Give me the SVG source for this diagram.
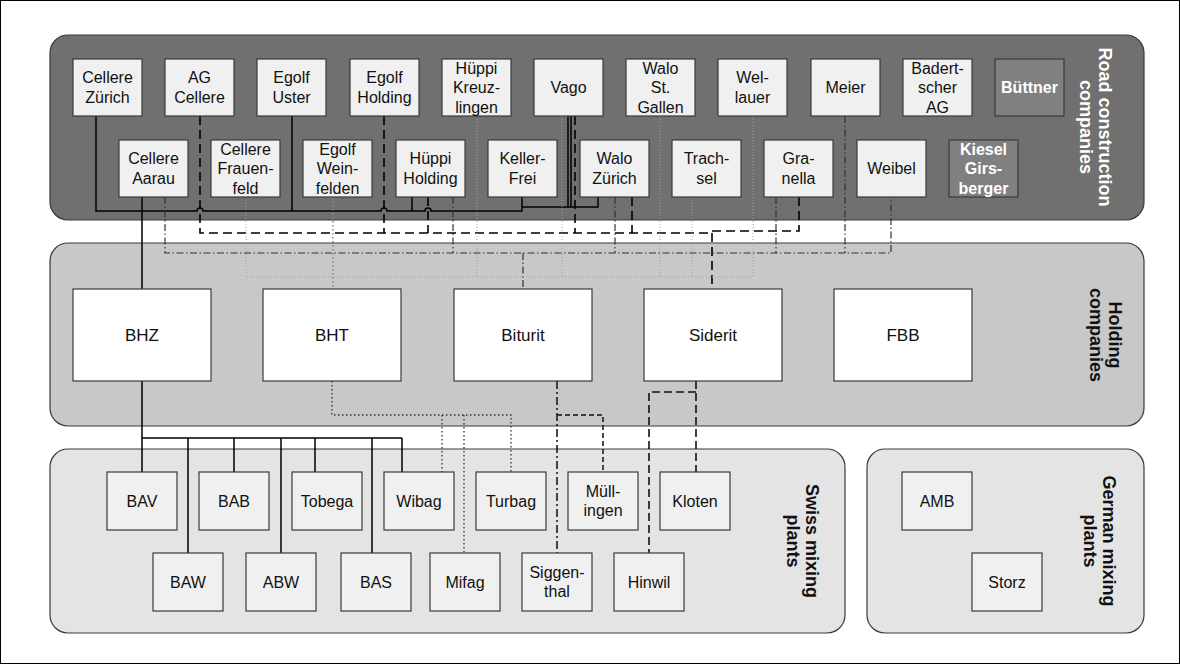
<svg xmlns="http://www.w3.org/2000/svg" width="1180" height="664" viewBox="0 0 1180 664">
<style>
text{font-family:"Liberation Sans",Arial,sans-serif;font-size:16px;fill:#111;text-anchor:middle}
.panel{stroke:#3a3a3a;stroke-width:1.2}
.n rect{fill:#f0f0f0;stroke:#3a3a3a;stroke-width:1.2}
.nd rect{fill:#808080;stroke:#3a3a3a;stroke-width:1.2}
.nd text{fill:#fff;font-weight:bold}
.h rect{fill:#fff;stroke:#3a3a3a;stroke-width:1.2}
.h text{font-size:17px}
.lbl{font-weight:bold;font-size:18px}
.lblw{fill:#fff}
.c path{fill:none}
.s{stroke:#000;stroke-width:1.5}
.d{stroke:#000;stroke-width:1.6;stroke-dasharray:9 5}
.dd{stroke:#333;stroke-width:1.2;stroke-dasharray:7 2.5 1.5 2.5}
.dt{stroke:#a0a0a0;stroke-width:1;stroke-dasharray:1 2}
.dt2{stroke:#8c8c8c;stroke-width:1.6;stroke-dasharray:1.6 2.4}
.dt3{stroke:#333;stroke-width:1.3;stroke-dasharray:1.5 2.5}
.dd2{stroke:#111;stroke-width:1.5;stroke-dasharray:8 3 2 3}
.ds{stroke:#111;stroke-width:1.5;stroke-dasharray:5 3}
.dl{stroke:#111;stroke-width:1.6;stroke-dasharray:8 4}
</style>
<rect x="0.5" y="0.5" width="1179" height="663" fill="#fff" stroke="#000" stroke-width="1"/>
<g id="panels">
<rect class="panel" x="50" y="35" width="1094" height="185" rx="18" fill="#707070"/>
<rect class="panel" x="50" y="243" width="1094" height="183" rx="18" fill="#c8c8c8"/>
<rect class="panel" x="50" y="449" width="795" height="184" rx="18" fill="#e4e4e4"/>
<rect class="panel" x="867" y="449" width="277" height="184" rx="18" fill="#e4e4e4"/>
<text class="lbl lblw" transform="translate(1096,127) rotate(90)"><tspan x="0" y="-3">Road construction</tspan><tspan x="0" y="16">companies</tspan></text>
<text class="lbl" transform="translate(1106,335) rotate(90)"><tspan x="0" y="-3">Holding</tspan><tspan x="0" y="16">companies</tspan></text>
<text class="lbl" transform="translate(803,541) rotate(90)"><tspan x="0" y="-3">Swiss mixing</tspan><tspan x="0" y="16">plants</tspan></text>
<text class="lbl" transform="translate(1100,541) rotate(90)"><tspan x="0" y="-3">German mixing</tspan><tspan x="0" y="16">plants</tspan></text>
</g>
<g id="connectors" class="c">
<path class="s" d="M96,116 V211 H197 a3,3 0 0 1 6,0 H381 a3,3 0 0 1 6,0 H425 a3,3 0 0 1 6,0 H522 V197"/>
<path class="s" d="M292,116 V211"/>
<path class="s" d="M142,197 V289"/>
<path class="s" d="M412,197 V211"/>
<path class="s" d="M522,207 H598 V197"/>
<path class="s" d="M568,116 V207"/>
<path class="s" d="M571,116 V207"/>
<path class="s" d="M142,381 V472 M142,438 H402 M188,438 V553 M234,438 V472 M281,438 V553 M315,438 V472 M372,438 V553 M402,438 V472"/>
<path class="d" d="M200,116 V233 H712"/>
<path class="d" d="M384,116 V233"/>
<path class="d" d="M428,197 V233"/>
<path class="d" d="M575,116 V233"/>
<path class="d" d="M632,197 V233"/>
<path class="d" d="M712,231 H799 V197"/>
<path class="d" d="M712,233 V289"/>
<path class="dd" d="M165,197 V253 H891 V197"/>
<path class="dd" d="M453,197 V253"/>
<path class="dd" d="M615,197 V253"/>
<path class="dd" d="M776,197 V253"/>
<path class="dd" d="M845,116 V253"/>
<path class="dd" d="M523,253 V289"/>
<path class="dt" d="M246,197 V277 H753 V116"/>
<path class="dt" d="M477,116 V277"/>
<path class="dt" d="M562,116 V277"/>
<path class="dt" d="M660,116 V277"/>
<path class="dt" d="M692,197 V277"/>
<path class="dt2" d="M333,197 V289"/>
<path class="dt3" d="M332,381 V415 H511 V472 M442,415 V472 M464,415 V553"/>
<path class="dd2" d="M557,381 V553"/>
<path class="ds" d="M557,415 H603 V472"/>
<path class="dl" d="M696,381 V472 M696,392 H649 V553"/>
</g>
<g id="n-cellere-zuerich" class="n"><rect x="73" y="59" width="69" height="57"/><text><tspan x="107.5" y="83">Cellere</tspan><tspan x="107.5" y="102.5">Zürich</tspan></text></g>
<g id="n-ag-cellere" class="n"><rect x="165" y="59" width="69" height="57"/><text><tspan x="199.5" y="83">AG</tspan><tspan x="199.5" y="102.5">Cellere</tspan></text></g>
<g id="n-egolf-uster" class="n"><rect x="257" y="59" width="69" height="57"/><text><tspan x="291.5" y="83">Egolf</tspan><tspan x="291.5" y="102.5">Uster</tspan></text></g>
<g id="n-egolf-holding" class="n"><rect x="350" y="59" width="69" height="57"/><text><tspan x="384.5" y="83">Egolf</tspan><tspan x="384.5" y="102.5">Holding</tspan></text></g>
<g id="n-hueppi-kreuzlingen" class="n"><rect x="442" y="59" width="69" height="57"/><text><tspan x="476.5" y="73.5">Hüppi</tspan><tspan x="476.5" y="93">Kreuz-</tspan><tspan x="476.5" y="112.5">lingen</tspan></text></g>
<g id="n-vago" class="n"><rect x="534" y="59" width="69" height="57"/><text x="568.5" y="93">Vago</text></g>
<g id="n-walo-st-gallen" class="n"><rect x="626" y="59" width="69" height="57"/><text><tspan x="660.5" y="73.5">Walo</tspan><tspan x="660.5" y="93">St.</tspan><tspan x="660.5" y="112.5">Gallen</tspan></text></g>
<g id="n-wellauer" class="n"><rect x="718" y="59" width="69" height="57"/><text><tspan x="752.5" y="83">Wel-</tspan><tspan x="752.5" y="102.5">lauer</tspan></text></g>
<g id="n-meier" class="n"><rect x="811" y="59" width="69" height="57"/><text x="845.5" y="93">Meier</text></g>
<g id="n-badertscher" class="n"><rect x="903" y="59" width="69" height="57"/><text><tspan x="937.5" y="73.5">Badert-</tspan><tspan x="937.5" y="93">scher</tspan><tspan x="937.5" y="112.5">AG</tspan></text></g>
<g id="n-buettner" class="nd"><rect x="995" y="59" width="69" height="57"/><text x="1029.5" y="93">Büttner</text></g>
<g id="n-cellere-aarau" class="n"><rect x="119" y="140" width="69" height="57"/><text><tspan x="153.5" y="164">Cellere</tspan><tspan x="153.5" y="183.5">Aarau</tspan></text></g>
<g id="n-cellere-frauenfeld" class="n"><rect x="211" y="140" width="69" height="57"/><text><tspan x="245.5" y="154.5">Cellere</tspan><tspan x="245.5" y="174">Frauen-</tspan><tspan x="245.5" y="193.5">feld</tspan></text></g>
<g id="n-egolf-weinfelden" class="n"><rect x="303" y="140" width="69" height="57"/><text><tspan x="337.5" y="154.5">Egolf</tspan><tspan x="337.5" y="174">Wein-</tspan><tspan x="337.5" y="193.5">felden</tspan></text></g>
<g id="n-hueppi-holding" class="n"><rect x="396" y="140" width="69" height="57"/><text><tspan x="430.5" y="164">Hüppi</tspan><tspan x="430.5" y="183.5">Holding</tspan></text></g>
<g id="n-keller-frei" class="n"><rect x="488" y="140" width="69" height="57"/><text><tspan x="522.5" y="164">Keller-</tspan><tspan x="522.5" y="183.5">Frei</tspan></text></g>
<g id="n-walo-zuerich" class="n"><rect x="580" y="140" width="69" height="57"/><text><tspan x="614.5" y="164">Walo</tspan><tspan x="614.5" y="183.5">Zürich</tspan></text></g>
<g id="n-trachsel" class="n"><rect x="672" y="140" width="69" height="57"/><text><tspan x="706.5" y="164">Trach-</tspan><tspan x="706.5" y="183.5">sel</tspan></text></g>
<g id="n-granella" class="n"><rect x="764" y="140" width="69" height="57"/><text><tspan x="798.5" y="164">Gra-</tspan><tspan x="798.5" y="183.5">nella</tspan></text></g>
<g id="n-weibel" class="n"><rect x="857" y="140" width="69" height="57"/><text x="891.5" y="174">Weibel</text></g>
<g id="n-kiesel-girsberger" class="nd"><rect x="949" y="140" width="69" height="57"/><text><tspan x="983.5" y="154.5">Kiesel</tspan><tspan x="983.5" y="174">Girs-</tspan><tspan x="983.5" y="193.5">berger</tspan></text></g>
<g id="n-bhz" class="h"><rect x="73" y="289" width="138" height="92"/><text x="142" y="341">BHZ</text></g>
<g id="n-bht" class="h"><rect x="263" y="289" width="138" height="92"/><text x="332" y="341">BHT</text></g>
<g id="n-biturit" class="h"><rect x="454" y="289" width="138" height="92"/><text x="523" y="341">Biturit</text></g>
<g id="n-siderit" class="h"><rect x="644" y="289" width="138" height="92"/><text x="713" y="341">Siderit</text></g>
<g id="n-fbb" class="h"><rect x="834" y="289" width="138" height="92"/><text x="903" y="341">FBB</text></g>
<g id="n-bav" class="n"><rect x="107" y="472" width="70" height="58"/><text x="142" y="507">BAV</text></g>
<g id="n-bab" class="n"><rect x="199" y="472" width="70" height="58"/><text x="234" y="507">BAB</text></g>
<g id="n-tobega" class="n"><rect x="292" y="472" width="70" height="58"/><text x="327" y="507">Tobega</text></g>
<g id="n-wibag" class="n"><rect x="384" y="472" width="70" height="58"/><text x="419" y="507">Wibag</text></g>
<g id="n-turbag" class="n"><rect x="476" y="472" width="70" height="58"/><text x="511" y="507">Turbag</text></g>
<g id="n-muellingen" class="n"><rect x="568" y="472" width="70" height="58"/><text><tspan x="603" y="497">Müll-</tspan><tspan x="603" y="516">ingen</tspan></text></g>
<g id="n-kloten" class="n"><rect x="660" y="472" width="70" height="58"/><text x="695" y="507">Kloten</text></g>
<g id="n-baw" class="n"><rect x="153" y="553" width="70" height="58"/><text x="188" y="588">BAW</text></g>
<g id="n-abw" class="n"><rect x="246" y="553" width="70" height="58"/><text x="281" y="588">ABW</text></g>
<g id="n-bas" class="n"><rect x="341" y="553" width="70" height="58"/><text x="376" y="588">BAS</text></g>
<g id="n-mifag" class="n"><rect x="430" y="553" width="70" height="58"/><text x="465" y="588">Mifag</text></g>
<g id="n-siggenthal" class="n"><rect x="522" y="553" width="70" height="58"/><text><tspan x="557" y="578">Siggen-</tspan><tspan x="557" y="597">thal</tspan></text></g>
<g id="n-hinwil" class="n"><rect x="614" y="553" width="70" height="58"/><text x="649" y="588">Hinwil</text></g>
<g id="n-amb" class="n"><rect x="902" y="472" width="70" height="58"/><text x="937" y="507">AMB</text></g>
<g id="n-storz" class="n"><rect x="972" y="553" width="70" height="58"/><text x="1007" y="588">Storz</text></g>
</svg>
